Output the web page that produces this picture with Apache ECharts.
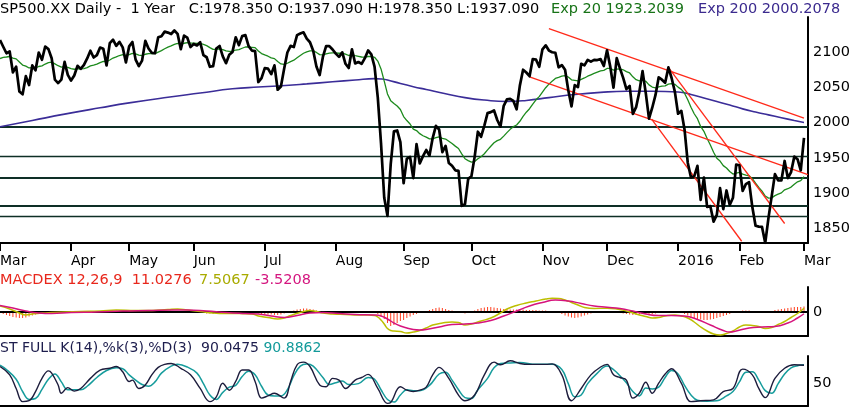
<!DOCTYPE html>
<html><head><meta charset="utf-8">
<script src="https://cdn.jsdelivr.net/npm/echarts/dist/echarts.min.js"></script>
<style>html,body{margin:0;padding:0;background:#fff}#c{width:850px;height:408px}</style>
</head><body><div id="c"></div>
<script>
// Daily closes (slots 0..249, Mar 2 2015 .. Mar 1 2016, as plotted)
const close = [
2117.39,2107.78,2098.53,2101.04,2071.26,2079.43,2044.16,2040.24,2065.95,2053.40,2081.19,2074.28,2099.50,2089.27,2108.10,2104.42,2091.50,2061.05,2056.15,2061.02,2086.24,2067.89,
2059.69,2066.96,2080.62,2076.33,2081.90,2091.18,2102.06,2092.43,2095.84,2106.63,2104.99,2081.18,2112.93,2117.69,2108.92,2114.76,2106.85,2085.51,
2108.29,2114.49,2089.46,2080.15,2088.00,2116.10,2105.33,2099.12,2098.48,2121.10,2122.73,2129.20,2127.83,2125.85,2130.82,2126.06,2104.20,2123.48,2120.79,2107.39,
2111.73,2109.60,2114.07,2095.84,2092.83,2079.28,2080.15,2105.20,2108.86,2094.11,2084.43,2096.29,2100.44,2121.24,2109.99,2122.85,2124.20,2108.58,2102.31,2101.49,2057.64,2063.11,
2077.42,2076.78,2068.76,2081.34,2046.68,2051.31,2076.62,2099.60,2108.95,2107.40,2124.29,2126.64,2128.28,2119.21,2114.15,2102.15,2079.65,2067.64,2093.25,2108.57,2108.63,2103.84,
2098.04,2093.32,2099.84,2083.56,2077.57,2104.18,2084.07,2086.05,2083.39,2091.54,2102.44,2096.92,2079.61,2035.73,1970.89,1893.21,1867.61,1940.51,1987.66,1988.87,1972.18,
1913.85,1948.86,1951.13,1921.22,1969.41,1942.04,1952.29,1961.05,1953.03,1978.09,1995.31,1990.20,1958.03,1966.97,1942.74,1938.76,1932.24,1931.34,1881.77,1884.09,1920.03,
1923.82,1951.36,1987.05,1979.92,1995.83,2013.43,2014.89,2017.46,2003.69,1994.24,2023.86,2033.11,2033.66,2030.77,2018.94,2052.51,2075.15,2071.18,2065.89,2090.35,2089.41,2079.36,
2104.05,2109.79,2102.31,2099.93,2099.20,2078.58,2081.72,2075.00,2045.97,2023.04,2053.19,2050.44,2083.58,2081.24,2089.17,2086.59,2089.14,2088.87,2090.11,2080.41,
2102.63,2079.51,2049.62,2091.69,2077.07,2063.59,2047.62,2052.23,2012.37,2021.94,2043.41,2073.07,2041.89,2005.55,2021.15,2038.97,2064.29,2060.99,2056.50,2078.36,2063.36,2043.94,
2012.66,2016.71,1990.26,1943.09,1922.03,1923.67,1938.68,1890.28,1921.84,1880.33,1881.33,1859.33,1868.99,1906.90,1877.08,1903.63,1882.95,1893.36,1940.24,
1939.38,1903.03,1912.53,1915.45,1880.05,1853.44,1852.21,1851.86,1829.08,1864.78,1895.58,1926.82,1917.83,1917.78,1945.50,1921.27,1929.80,1951.70,1948.05,1932.23,
1978.35
];
const ema20 = [
2091.0,2092.6,2093.2,2093.9,2091.7,2090.5,2086.1,2081.7,2080.2,2077.6,
2077.9,2077.6,2079.7,2080.6,2083.2,2085.2,2085.8,2083.4,2080.8,2078.9,
2079.6,2078.5,2076.7,2075.8,2076.3,2076.3,2076.8,2078.2,2080.5,2081.6,
2083.0,2085.2,2087.1,2086.5,2089.0,2091.7,2093.3,2095.3,2096.4,2095.4,
2096.6,2098.3,2097.5,2095.9,2095.1,2097.1,2097.9,2098.0,2098.0,2100.2,
2102.3,2104.9,2107.1,2108.9,2111.0,2112.4,2111.6,2112.7,2113.5,2112.9,
2112.8,2112.5,2112.7,2111.1,2109.4,2106.5,2104.0,2104.1,2104.6,2103.6,
2101.8,2101.3,2101.2,2103.1,2103.8,2105.6,2107.4,2107.5,2107.0,2106.5,
2101.8,2098.1,2096.1,2094.3,2091.9,2090.9,2086.7,2083.3,2082.7,2084.3,
2086.7,2088.7,2092.1,2095.4,2098.5,2100.5,2101.8,2101.8,2099.7,2096.6,
2096.3,2097.5,2098.6,2099.1,2099.0,2098.5,2098.6,2097.2,2095.3,2096.1,
2095.0,2094.2,2093.2,2093.0,2093.9,2094.2,2092.8,2087.4,2076.3,2058.9,
2040.7,2031.2,2027.1,2023.5,2018.6,2008.6,2002.9,1998.0,1990.7,1988.7,
1984.3,1981.3,1979.4,1976.9,1977.0,1978.7,1979.8,1977.7,1976.7,1973.5,
1970.2,1966.6,1963.2,1955.5,1948.7,1946.0,1943.9,1944.6,1948.6,1951.6,
1955.8,1961.3,1966.4,1971.3,1974.4,1976.3,1980.8,1985.8,1990.4,1994.2,
1996.6,2001.9,2008.9,2014.8,2019.7,2026.4,2032.4,2036.9,2043.3,2049.6,
2054.6,2058.9,2062.7,2064.2,2065.9,2066.8,2064.8,2060.8,2060.1,2059.2,
2061.5,2063.4,2065.9,2067.9,2069.9,2071.7,2073.5,2074.2,2076.9,2077.1,
2074.5,2076.1,2076.2,2075.0,2072.4,2070.5,2065.0,2060.9,2059.2,2060.5,
2058.7,2053.6,2050.5,2049.4,2050.8,2051.8,2052.2,2054.7,2055.5,2054.4,
2050.4,2047.2,2041.8,2032.4,2021.9,2012.6,2005.6,1994.6,1987.7,1977.5,
1968.3,1957.9,1949.4,1945.4,1938.9,1935.5,1930.5,1927.0,1928.3,1929.4,
1926.9,1925.5,1924.5,1920.3,1913.9,1908.0,1902.7,1895.7,1892.8,1893.1,
1896.3,1898.3,1900.2,1904.5,1906.1,1908.4,1912.5,1915.9,1917.5,1923.2
];
const ema200 = [[0,1994],[10,2003],[20,2012],[31,2021],[40,2028],[52,2036],[62,2042],[72,2048],[80,2050.5],[86,2052],[95,2055],[103,2058],[110,2060.5],[116,2062.5],[118,2062],[120,2060.5],[124,2055.5],[128,2051],[132,2047],[138,2041],[144,2035.5],[150,2032],[157,2030],[163,2031.5],[170,2035.5],[178,2040],[186,2043],[194,2044.5],[202,2044.5],[210,2043.5],[214,2040],[218,2035],[222,2030],[226,2025],[230,2019.5],[234,2015],[238,2011],[242,2007],[246,2003],[249,2000.2]];
const hLevels = [1994, 1952, 1922, 1881.8, 1866.5];
const trendUpper = [[170,2133.4],[249,2006.5]];
const trendMiddle = [[164,2065.1],[250.2,1926]];
const trendSteep1 = [[201.8,2005],[229.7,1831.5]];
const trendSteep2 = [[207.4,2076],[243,1856.7]];
// MACD panel
const macdLine = [[0,12],[3,6],[6,-2],[8,-6],[10,-4],[13,-2],[16,-1],[20,0],[25,1],[31,2],[36,4],[42,3],[47,3],[52,5],[55,6],[58,4],[62,1],[66,-2],[70,-3],[74,-3],[78,-4],[80,-8],[83,-11],[86,-14],[88,-12],[90,-7],[93,-1],[96,3],[98,1],[100,-2],[103,-4],[107,-5],[111,-6],[114,-6],[116,-7],[117,-10],[118,-16],[119,-24],[120,-33],[121,-37],[122,-38],[124,-39],[126,-42],[128,-40],[130,-37],[132,-32],[134,-26],[137,-22],[140,-20],[142,-21],[144,-26],[146,-24],[149,-18],[152,-12],[155,-2],[157,6],[160,13],[163,18],[166,22],[169,26],[171,27.5],[173,27],[175,24],[177,19],[179,14],[181,9],[184,7],[188,7.5],[191,6],[194,2],[197,-4],[200,-9],[202,-12],[204,-11],[206,-8],[209,-6],[211,-8],[213,-12],[215,-20],[217,-30],[219,-38],[221,-44],[223,-46],[225,-43],[227,-38],[229,-30],[231,-26],[233,-27],[235,-29],[237,-33],[239,-31],[241,-25],[243,-19],[245,-11],[247,-3],[249,7.5067]];
const signalLine = [[0,13],[4,8],[8,2],[12,-2],[16,-3],[22,-1],[30,0],[38,2],[46,3],[54,4],[58,4],[64,2],[70,-1],[76,-3],[80,-4],[84,-8],[88,-11],[92,-7],[96,-2],[100,-1],[105,-3],[110,-5],[116,-6],[118,-8],[120,-14],[122,-22],[124,-28],[126,-32],[128,-35],[130,-36],[132,-35],[136,-30],[140,-25],[144,-24],[148,-22],[152,-17],[156,-8],[160,2],[164,12],[168,19],[172,24],[176,22],[180,17],[184,12],[188,9.5],[192,7],[196,2],[200,-4],[204,-7],[208,-7],[212,-8],[216,-15],[220,-26],[224,-37],[226,-40],[228,-38],[232,-32],[236,-30],[240,-29],[244,-22],[247,-12],[249,-3.5208]];
const hist = [
-2,-4,-6,-8,-10,-11,-12,-12,-11,-9,
-7,-5,-4,-3,-2,-1,0,1,1,1,
1,1,1,1,1,2,2,2,2,2,
2,2,2,1,2,2,3,3,2,1,
1,1,0,-1,-1,0,0,0,0,1,
1,2,2,2,2,2,1,1,1,0,
0,-1,-1,-2,-3,-3,-4,-3,-2,-2,
-2,-1,-1,0,0,1,1,1,0,-1,
-3,-4,-5,-5,-5,-6,-6,-5,-3,-1,
1,3,5,6,7,7,6,5,3,1,
-1,-1,-1,-1,-2,-2,-2,-2,-2,-2,
-1,-1,-1,-1,-1,-1,-2,-4,-8,-14,
-22,-28,-26,-22,-18,-16,-12,-9,-6,-4,
-2,0,2,4,6,8,9,8,6,4,
3,1,-1,-2,-3,-2,0,3,6,8,
9,10,10,9,8,7,6,6,5,5,
5,5,5,4,4,4,4,3,3,3,
2,1,0,-2,-4,-7,-9,-11,-12,-11,
-9,-7,-5,-3,-2,-1,-1,0,0,0,
-1,-1,-2,-3,-4,-5,-6,-6,-5,-4,
-4,-5,-4,-3,-2,-1,0,1,1,0,
-1,-2,-4,-7,-10,-12,-14,-15,-16,-16,
-15,-14,-12,-10,-8,-6,-4,-2,0,2,
3,3,3,2,1,0,-1,-1,0,2,
4,5,6,7,8,9,10,10,10,11
];
// Stochastic panel
const stochK = [[0,87],[3,68],[5,37],[7,7],[9,9],[11,30],[13,60],[15,77],[16,72],[18,45],[19,26],[21,39],[23,31],[25,37],[28,60],[31,79],[34,83],[36,87],[38,75],[40,53],[41,56],[43,37],[45,45],[47,68],[49,85],[51,92],[53,94],[56,83],[59,68],[62,37],[65,7],[67,18],[69,49],[71,33],[73,53],[75,79],[77,79],[79,53],[81,15],[83,20],[85,26],[88,15],[90,53],[92,91],[94,97],[96,87],[99,45],[101,41],[103,60],[105,56],[107,37],[110,56],[112,62],[114,69],[117,37],[120,3],[121,5],[124,41],[126,33],[128,30],[130,33],[132,40],[134,68],[136,85],[139,60],[142,22],[144,9],[147,22],[150,68],[153,97],[155,91],[158,100],[161,94],[164,92],[166,92],[169,92],[171,93],[174,68],[177,9],[180,37],[183,68],[186,86],[188,92],[190,68],[192,62],[194,56],[196,15],[198,26],[200,51],[202,26],[204,49],[206,70],[208,82],[211,49],[214,7],[217,9],[221,11],[224,30],[227,37],[230,81],[233,68],[235,37],[237,16],[240,60],[243,83],[246,91],[249,90.0475]];
const stochD = [[0,90],[2,80],[5,58],[7,30],[9,12],[11,14],[13,35],[15,58],[17,70],[19,52],[21,34],[23,34],[25,34],[27,42],[30,62],[33,78],[36,84],[38,82],[40,68],[42,56],[44,46],[46,42],[48,52],[50,72],[53,88],[55,92],[58,86],[61,72],[63,48],[65,22],[67,12],[69,28],[71,40],[73,44],[75,64],[77,76],[79,68],[81,42],[83,22],[85,20],[87,20],[89,34],[91,66],[93,88],[95,93],[97,88],[100,62],[102,46],[104,50],[106,54],[108,46],[111,48],[114,62],[116,58],[118,34],[120,12],[122,6],[124,22],[126,34],[128,32],[130,32],[133,44],[136,70],[138,74],[140,56],[142,34],[144,16],[146,14],[148,34],[151,60],[153,84],[155,94],[158,95],[161,96],[166,92],[171,92],[174,80],[176,48],[178,18],[180,22],[182,48],[185,72],[188,88],[190,80],[192,66],[194,50],[196,30],[198,20],[200,38],[202,36],[204,40],[206,62],[208,78],[210,70],[212,44],[214,22],[216,10],[219,8],[222,9],[225,20],[227,30],[229,52],[231,74],[233,75],[235,56],[237,32],[239,26],[241,48],[243,70],[245,84],[247,89],[249,90.8862]];
// Axis ticks
const monthSlots = [0,22,40,60,82,104,125,146,168,188,210,229,249];
const monthLabels = ['Mar','Apr','May','Jun','Jul','Aug','Sep','Oct','Nov','Dec','2016','Feb','Mar'];
const priceTicks = [1850,1900,1950,2000,2050,2100];
const macdTicks = [0];
const stochTicks = [50];

const FONT = 'DejaVu Sans';
const X_MAX = 250.24;
const chart = echarts.init(document.getElementById('c'), null, {renderer:'canvas'});
const idx = a => a.map((v,i)=>[i,v]);
function xAx(g, main){
  return {type:'value', gridIndex:g, min:0, max:X_MAX,
    axisLine:{show:true, onZero:false, lineStyle:{color:'#000', width:2}},
    axisTick: main ? {show:true, customValues:monthSlots, length:8, lineStyle:{color:'#000', width:2}} : {show:false},
    axisLabel: main ? {show:true, customValues:monthSlots, align:'left', margin:11, color:'#000', fontSize:14, fontFamily:FONT,
      formatter: v => monthLabels[monthSlots.indexOf(v)] || ''} : {show:false},
    splitLine:{show:false}};
}
function yAx(g, mn, mx, ticks, fs){
  return {type:'value', gridIndex:g, position:'right', min:mn, max:mx, scale:true,
    axisLine:{show:true, onZero:false, lineStyle:{color:'#000', width:2}},
    axisTick:{show:false},
    axisLabel:{show:true, customValues:ticks, margin:5, color:'#000', fontSize:fs, fontFamily:FONT,
      formatter: v => String(v)},
    splitLine:{show:false}};
}
const hW = [2, 1.3, 2, 2, 1.3];
const red = '#ff2a1a';
const tl = (data) => ({type:'line', xAxisIndex:0, yAxisIndex:0, data, symbol:'none', z:4, silent:true,
  lineStyle:{color:red, width:1.3}});
const T = (text, left, top, color) => ({text, left, top, padding:0,
  textStyle:{color, fontSize:14.5, fontWeight:'normal', fontFamily:FONT}});

chart.setOption({
  animation:false,
  backgroundColor:'#fff',
  title:[
    T('SP500.XX Daily -  1 Year   C:1978.350 O:1937.090 H:1978.350 L:1937.090', 0, 2, '#000'),
    T('Exp 20 1923.2039', 551, 2, '#177317'),
    T('Exp 200 2000.2078', 698, 2, '#3b2a8e'),
    T('MACDEX 12,26,9  11.0276', 0, 273, '#e8271c'),
    T('7.5067', 199, 273, '#a9ab00'),
    T('-3.5208', 255, 273, '#d4167f'),
    {text:'{a|ST FULL K(14),%k(3),%D(3)  90.0475} {b|90.8862}', left:0, top:341, padding:0,
      textStyle:{fontSize:14, fontFamily:FONT, fontWeight:'normal',
        rich:{a:{color:'#1d1d4d', fontSize:14, fontFamily:FONT}, b:{color:'#139a9a', fontSize:14, fontFamily:FONT}}}}
  ],
  grid:[
    {left:0, top:17, width:808, height:226, outerBoundsMode:'none'},
    {left:0, top:287, width:808, height:49, outerBoundsMode:'none'},
    {left:0, top:356, width:808, height:50, outerBoundsMode:'none'}
  ],
  xAxis:[xAx(0,true), xAx(1,false), xAx(2,false)],
  yAxis:[yAx(0,1829,2150,priceTicks,14.5), yAx(1,-48,50,macdTicks,14.5), yAx(2,-3,111,stochTicks,14.5)],
  series:[
    {type:'line', xAxisIndex:0, yAxisIndex:0, data:ema200, smooth:true, symbol:'none', z:2, silent:true,
      lineStyle:{color:'#3b2d98', width:1.6},
      markLine:{silent:true, symbol:'none', label:{show:false}, z:1,
        data: hLevels.map((v,k)=>({yAxis:v, lineStyle:{color:'#0e2f26', width:hW[k], type:'solid'}}))}},
    {type:'line', xAxisIndex:0, yAxisIndex:0, data:idx(ema20), symbol:'none', z:3, silent:true,
      lineStyle:{color:'#1c8a1c', width:1.3}},
    tl(trendUpper), tl(trendMiddle), tl(trendSteep1), tl(trendSteep2),
    {type:'line', xAxisIndex:0, yAxisIndex:0, data:idx(close), symbol:'none', z:5, silent:true,
      lineStyle:{color:'#000', width:2.7, join:'round'}},
    {type:'bar', xAxisIndex:1, yAxisIndex:1, data:idx(hist), barWidth:1, silent:true, z:2,
      itemStyle:{color:'#ff4020'},
      markLine:{silent:true, symbol:'none', label:{show:false}, z:3,
        data:[{yAxis:0, lineStyle:{color:'#000', width:2, type:'solid'}}]}},
    {type:'line', xAxisIndex:1, yAxisIndex:1, data:macdLine, smooth:true, symbol:'none', z:4, silent:true,
      lineStyle:{color:'#bcbf00', width:1.5}},
    {type:'line', xAxisIndex:1, yAxisIndex:1, data:signalLine, smooth:true, symbol:'none', z:5, silent:true,
      lineStyle:{color:'#d6137d', width:1.5}},
    {type:'line', xAxisIndex:2, yAxisIndex:2, data:stochD, smooth:0.4, symbol:'none', z:3, silent:true,
      lineStyle:{color:'#169c9c', width:1.5}},
    {type:'line', xAxisIndex:2, yAxisIndex:2, data:stochK, smooth:0.4, symbol:'none', z:4, silent:true,
      lineStyle:{color:'#1c1c3c', width:1.4}}
  ]
});
</script></body></html>
